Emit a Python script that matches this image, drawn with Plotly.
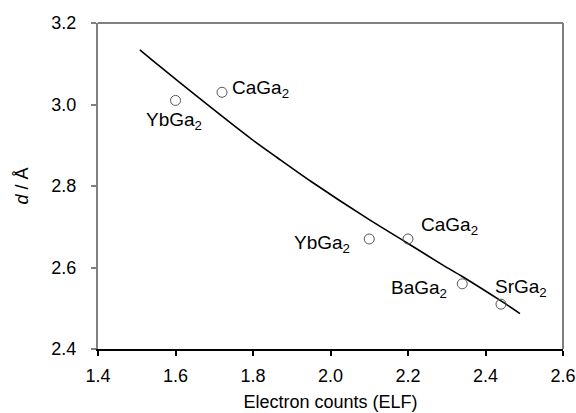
import plotly.graph_objects as go

# Measured distances vs. ELF electron counts
compounds = ["YbGa<sub>2</sub>", "CaGa<sub>2</sub>", "YbGa<sub>2</sub>",
             "CaGa<sub>2</sub>", "BaGa<sub>2</sub>", "SrGa<sub>2</sub>"]
electron_counts = [1.60, 1.72, 2.10, 2.20, 2.34, 2.44]
distances = [3.01, 3.03, 2.67, 2.67, 2.56, 2.51]

# Fitted trend curve (sampled along the line)
fit_x = [1.508, 1.555, 1.650, 1.792, 1.862, 1.950, 2.099, 2.200, 2.290, 2.340, 2.440, 2.489]
fit_y = [3.134, 3.097, 3.024, 2.918, 2.870, 2.811, 2.718, 2.659, 2.606, 2.578, 2.518, 2.487]

# Label offsets in pixels (xshift, yshift, xanchor)
label_offsets = [(-2, -21, "center"), (8, 3, "left"), (-17, -5, "right"),
                 (11, 13, "left"), (-13, -5, "right"), (-8, 16, "left")]

FONT = "Liberation Sans, Arial, Helvetica, sans-serif"

fig = go.Figure()
fig.add_trace(go.Scatter(
    x=fit_x, y=fit_y, mode="lines", line=dict(color="black", width=1.6, shape="spline", smoothing=0.8),
    hoverinfo="skip", showlegend=False))
fig.add_trace(go.Scatter(
    x=electron_counts, y=distances, mode="markers",
    marker=dict(symbol="circle-open", size=10, color="#555555", line=dict(width=1)),
    showlegend=False))

for name, x, y, (dx, dy, xa) in zip(compounds, electron_counts, distances, label_offsets):
    fig.add_annotation(x=x, y=y, text=name, showarrow=False, xanchor=xa, yanchor="middle",
                       xshift=dx, yshift=dy, font=dict(family=FONT, size=19, color="black"))

# Gray top and right frame lines
fig.add_shape(type="line", xref="x domain", yref="y domain", x0=0, x1=1, y0=1, y1=1,
              line=dict(color="#808080", width=2))
fig.add_shape(type="line", xref="x domain", yref="y domain", x0=1, x1=1, y0=0, y1=1,
              line=dict(color="#808080", width=2))

fig.update_layout(
    width=576, height=413,
    margin=dict(l=98, r=13, t=23, b=64),
    paper_bgcolor="white", plot_bgcolor="white",
    font=dict(family=FONT, size=18, color="black"),
    xaxis=dict(range=[1.4, 2.6], tickvals=[1.4, 1.6, 1.8, 2.0, 2.2, 2.4, 2.6],
               ticktext=["1.4", "1.6", "1.8", "2.0", "2.2", "2.4", "2.6"],
               showgrid=False, zeroline=False, showline=True, linecolor="black", linewidth=1.5,
               ticks="outside", ticklen=5, tickcolor="black", tickwidth=1.5,
               ticklabelstandoff=5, automargin=False,
               title=dict(text="Electron counts (ELF)", standoff=10, font=dict(size=18))),
    yaxis=dict(range=[2.4, 3.2], tickvals=[2.4, 2.6, 2.8, 3.0, 3.2],
               ticktext=["2.4", "2.6", "2.8", "3.0", "3.2"],
               showgrid=False, zeroline=False, showline=True, linecolor="#808080", linewidth=2,
               ticks="outside", ticklen=5, tickcolor="#808080", tickwidth=1.5,
               ticklabelstandoff=11, automargin=False,
               title=dict(text="<i>d</i> / Å", standoff=18, font=dict(size=18))),
)

fig.write_html("out.html")
